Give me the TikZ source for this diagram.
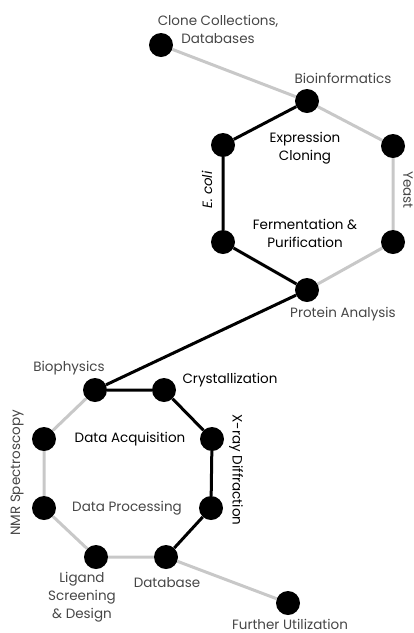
\documentclass[tikz,border=0pt]{standalone}
\usepackage{fontspec}
\setmainfont{Poppins}
\usepackage{xcolor}
\usepackage{tikz}
\usetikzlibrary{positioning, calc}

\definecolor{linegray}{RGB}{200,200,200}
\definecolor{textgray}{RGB}{70,70,70}

\begin{document}
\begin{tikzpicture}[
    x=1pt, y=-1pt,
    % Estilo para los puntos (circulos negros)
    dot/.style={
        circle,
        fill=black,
        minimum size=24pt,
        inner sep=0pt
    },
    % Ruta principal (negra) y ruta alternativa (gris)
    mainpath/.style={line width=3pt, black},
    sidepath/.style={line width=3pt, linegray},
    % Etiquetas
    lbl/.style={
        font=\fontsize{13.5}{18}\selectfont,
        align=center,
        inner sep=0pt,
        text=textgray
    },
    lblbold/.style={
        lbl,
        text=black
    }
]
    \useasboundingbox (0,0) rectangle (414,633);

    % --- HEXAGONO SUPERIOR ---
    \node[dot] (clone) at (161,45) {};
    \node[dot] (bioinf) at (307,101) {};
    \node[dot] (ecolitop) at (223,145) {};
    \node[dot] (ecolibot) at (223,242) {};
    \node[dot] (yeasttop) at (393,146) {};
    \node[dot] (yeastbot) at (393,242) {};
    \node[dot] (protein) at (307,290) {};

    % --- OCTOGONO INFERIOR ---
    \node[dot] (biophys) at (95,390) {};
    \node[dot] (cryst) at (164,390) {};
    \node[dot] (xraytop) at (212,439) {};
    \node[dot] (xraybot) at (211,508) {};
    \node[dot] (database) at (166,557) {};
    \node[dot] (ligand) at (96,557) {};
    \node[dot] (nmrbot) at (44,508) {};
    \node[dot] (nmrtop) at (44,439) {};
    \node[dot] (further) at (288,603) {};

    % --- CONEXIONES ---
    \draw[sidepath] (clone) -- (bioinf);
    \draw[sidepath] (bioinf) -- (yeasttop) -- (yeastbot) -- (protein);
    \draw[mainpath] (bioinf) -- (ecolitop) -- (ecolibot) -- (protein);
    \draw[mainpath] (protein) -- (biophys);
    \draw[mainpath] (biophys) -- (cryst) -- (xraytop) -- (xraybot) -- (database);
    \draw[sidepath] (biophys) -- (nmrtop) -- (nmrbot) -- (ligand) -- (database);
    \draw[sidepath] (database) -- (further);

    % --- ETIQUETAS ---
    \node[lbl] (t-clone) at (218,29) {Clone Collections,\\Databases};
    \node[lbl] (t-bioinf) at (343,78) {Bioinformatics};
    \node[lblbold] (t-expr) at (305,148) {Expression\\Cloning};
    \node[lblbold] (t-ferm) at (305,233) {Fermentation \&\\Purification};
    \node[lblbold, rotate=90] (t-ecoli) at (207,190) {\textit{E. coli}};
    \node[lbl, rotate=-90] (t-yeast) at (408,190) {Yeast};
    \node[lbl] (t-protein) at (343,314) {Protein Analysis};
    \node[lbl] (t-biophys) at (69,368) {Biophysics};
    \node[lblbold] (t-cryst) at (230,380) {Crystallization};
    \node[lblbold] (t-acq) at (130,439) {Data Acquisition};
    \node[lbl] (t-proc) at (127,508) {Data Processing};
    \node[lbl, rotate=90] (t-nmr) at (17,473) {NMR Spectroscopy};
    \node[lblbold, rotate=-90] (t-xray) at (236,470) {X-ray Diffraction};
    \node[lbl] (t-ligand) at (82,597) {Ligand\\Screening\\\& Design};
    \node[lbl] (t-database) at (167,583) {Database};
    \node[lbl] (t-further) at (290,624) {Further Utilization};

\end{tikzpicture}
\end{document}
